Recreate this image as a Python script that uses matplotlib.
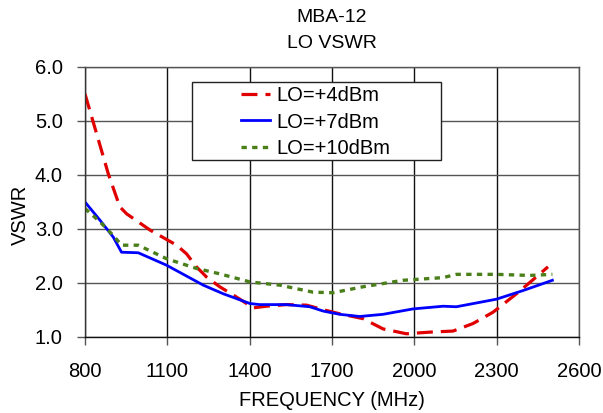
import matplotlib
matplotlib.use("Agg")
import matplotlib.pyplot as plt
from matplotlib.patches import Rectangle

plt.rcParams['font.family'] = ['Liberation Sans', 'DejaVu Sans']

title_lines = ["MBA-12", "LO VSWR"]
xlabel = "FREQUENCY (MHz)"
ylabel = "VSWR"
xticks = [800, 1100, 1400, 1700, 2000, 2300, 2600]
yticks = [1.0, 2.0, 3.0, 4.0, 5.0, 6.0]

lo4_f = [800, 842, 885, 927, 952, 1037, 1134, 1170, 1206, 1243, 1291, 1352, 1413, 1461, 1534, 1607, 1680, 1728,
         1813, 1886, 1971, 2056, 2141, 2214, 2287, 2372, 2444, 2487]
lo4_v = [5.5, 4.77, 4.02, 3.41, 3.28, 2.98, 2.70, 2.54, 2.30, 2.11, 1.93, 1.74, 1.54, 1.57, 1.60, 1.59, 1.49, 1.43,
         1.34, 1.15, 1.06, 1.09, 1.11, 1.25, 1.46, 1.80, 2.11, 2.30]

lo7_f = [800, 855, 903, 933, 994, 1097, 1231, 1304, 1401, 1437, 1534, 1619, 1668, 1728, 1801, 1886, 1995, 2105,
         2153, 2299, 2396, 2503]
lo7_v = [3.50, 3.16, 2.85, 2.57, 2.56, 2.33, 1.96, 1.80, 1.62, 1.60, 1.60, 1.56, 1.48, 1.42, 1.38, 1.42, 1.52, 1.57,
         1.56, 1.70, 1.86, 2.05]

lo10_f = [800, 855, 903, 933, 994, 1097, 1206, 1291, 1401, 1510, 1631, 1704, 1813, 1959, 2105, 2153, 2299, 2420, 2503]
lo10_v = [3.38, 3.13, 2.88, 2.70, 2.70, 2.45, 2.27, 2.17, 2.02, 1.96, 1.83, 1.82, 1.93, 2.05, 2.10, 2.16, 2.16, 2.14, 2.16]

W, H = 603, 413
fig = plt.figure(figsize=(W / 100, H / 100), dpi=100)
ax = fig.add_axes([85 / W, 1 - 337 / H, (579 - 85) / W, (337 - 67) / H])

ax.plot(lo4_f, lo4_v, color='#e00000', lw=2.3, linestyle=(0, (5, 2.5)), label='LO=+4dBm')
ax.plot(lo7_f, lo7_v, color='#0000ff', lw=2.0, linestyle='-', label='LO=+7dBm')
ax.plot(lo10_f, lo10_v, color='#4a7f1a', lw=2.4, linestyle=(0, (1.6, 1.6)), label='LO=+10dBm')

ax.set_xlim(800, 2600)
ax.set_ylim(1.0, 6.0)
ax.set_xticks(xticks)
ax.set_xticklabels([str(t) for t in xticks], fontsize=14.5)
ax.set_yticks(yticks)
ax.set_yticklabels([f"{t:.1f}" for t in yticks], fontsize=14.5)
ax.tick_params(axis='y', direction='out', length=6, width=1, color='#555555', pad=10)
ax.tick_params(axis='x', direction='out', length=6, width=1, color='#555555', pad=12)

ax.grid(True, axis='x', color='#111111', lw=1.0)
ax.grid(True, axis='y', color='#555555', lw=1.0)
for s in ax.spines.values():
    s.set_color('#555555')
    s.set_linewidth(1.0)
ax.spines['bottom'].set_color('#111111')
ax.spines['left'].set_color('#333333')

fig.text(0.5 * (85 + 579) / W, 1 - 18 / H, title_lines[0], ha='center', va='center', fontsize=14)
fig.text(0.5 * (85 + 579) / W, 1 - 44 / H, title_lines[1], ha='center', va='center', fontsize=14)
fig.text(332 / W, 1 - 401 / H, xlabel, ha='center', va='center', fontsize=14.5)
fig.text(20 / W, 1 - 215 / H, ylabel, ha='center', va='center', rotation=90, fontsize=14.5)

# legend frame
frame = Rectangle((192 / W, 1 - 160 / H), (441 - 192) / W, (160 - 82) / H,
                  transform=fig.transFigure, facecolor='white', edgecolor='#222222',
                  lw=1.0, zorder=4, clip_on=False)
ax.add_patch(frame)
leg = ax.legend(loc='center left', bbox_to_anchor=(241 / W, 1 - 122 / H), bbox_transform=fig.transFigure,
                fontsize=14.5, frameon=False, handlelength=1.45, handletextpad=0.3,
                borderpad=0.0, borderaxespad=0.0, labelspacing=0.36)
leg.set_zorder(6)

fig.savefig('out.png', dpi=100)
